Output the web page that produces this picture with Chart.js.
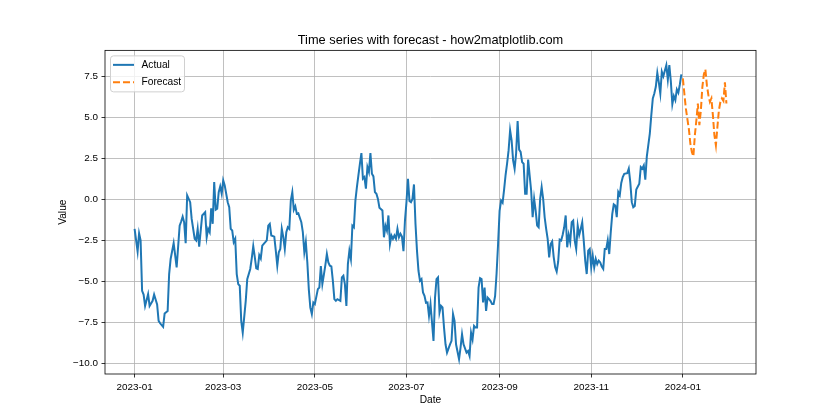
<!DOCTYPE html>
<html>
<head>
<meta charset="utf-8">
<script src="https://cdn.jsdelivr.net/npm/chart.js@4.4.0/dist/chart.umd.min.js"></script>
<style>
  html, body { margin: 0; padding: 0; background: #fff; }
</style>
</head>
<body>
<canvas id="tsChart" width="840" height="420"></canvas>
<script>
/* data: day offsets from 2023-01-01 and values */
const actualDays = [
  0, 2, 3, 4, 5, 6, 7, 9, 10, 12, 13, 15, 16, 17, 19, 20, 22, 23, 24, 26, 27, 28, 30, 31, 32, 33, 34, 35, 37, 38,
  40, 41, 42, 43, 45, 47, 48, 49, 50, 51, 52, 53, 54, 55, 56, 57, 58, 59, 60, 62, 63, 64, 65, 66, 67, 68, 69, 70, 71, 72,
  74, 75, 77, 78, 79, 80, 81, 82, 83, 84, 85, 87, 88, 89, 90, 91, 93, 94, 95, 96, 97, 98, 99, 100, 101, 102, 103, 104, 105, 106,
  107, 108, 109, 111, 112, 113, 114, 115, 116, 117, 118, 119, 120, 122, 123, 124, 125, 126, 127, 128, 129, 130, 131, 132, 133, 134, 135, 137, 138, 139,
  140, 141, 142, 143, 144, 145, 146, 147, 148, 149, 150, 151, 152, 153, 154, 155, 156, 157, 158, 159, 160, 161, 162, 163, 165, 166, 167, 168, 169, 170,
  171, 172, 173, 174, 175, 176, 177, 178, 179, 180, 181, 182, 183, 184, 185, 186, 187, 188, 189, 190, 191, 192, 193, 194, 195, 196, 197, 198, 199, 200,
  201, 202, 203, 204, 205, 206, 207, 208, 210, 211, 212, 213, 214, 216, 217, 218, 219, 221, 222, 223, 224, 225, 226, 227, 228, 229, 230, 231, 232, 233,
  234, 235, 236, 237, 238, 239, 240, 241, 242, 243, 244, 245, 246, 247, 248, 249, 250, 251, 252, 253, 254, 255, 256, 257, 258, 259, 260, 261, 262, 263,
  264, 265, 266, 267, 268, 269, 270, 271, 272, 273, 274, 275, 276, 277, 278, 279, 280, 281, 282, 283, 284, 285, 286, 287, 288, 289, 290, 291, 292, 293,
  294, 295, 296, 297, 298, 299, 300, 301, 302, 303, 304, 305, 306, 307, 308, 309, 310, 311, 312, 313, 314, 315, 316, 317, 318, 319, 320, 321, 322, 323,
  324, 325, 326, 328, 329, 330, 331, 332, 333, 334, 336, 337, 338, 339, 340, 341, 342, 343, 344, 345, 346, 347, 348, 349, 350, 351, 352, 353, 354, 355,
  356, 357, 358, 359, 360, 361, 362, 363, 364
];
const actualValues = [
  -1.8, -3.17, -2.07, -2.5, -5.57, -5.8, -6.49, -5.77, -6.49, -6.18, -5.8, -6.4, -7.4, -7.55, -7.77, -6.95, -6.8, -4.55, -3.63, -2.67, -3.4, -4.14, -1.6, -1.35, -1.05, -1.4, -2.67, 0.24, -0.17, -1.19,
  -2.4, -2.5, -1.8, -2.88, -0.98, -0.78, -2.31, -1.8, -2.0, -0.54, -1.49, 1.05, -0.63, -0.57, 0.44, 0.79, 0.34, 1.16, 0.85, -0.17, -0.48, -1.8, -1.9, -2.6, -2.4, -4.55, -5.16, -5.26, -7.4, -8.12,
  -6.18, -4.86, -4.24, -3.6, -2.85, -3.5, -4.2, -4.24, -3.4, -3.6, -2.82, -2.61, -2.5, -1.6, -1.49, -2.2, -2.27, -3.12, -4.04, -3.22, -3.02, -1.8, -2.3, -3.02, -2.0, -1.7, -1.8, -0.07, 0.44, -0.63,
  -0.42, -0.88, -0.85, -1.39, -2.0, -3.22, -2.6, -3.84, -5.5, -6.6, -6.99, -6.28, -6.38, -5.47, -5.37, -4.07, -5.16, -4.6, -4.0, -3.33, -3.84, -4.04, -4.08, -4.96, -6.08, -6.18, -6.08, -6.18, -4.75, -4.65,
  -5.16, -6.49, -3.94, -3.12, -3.63, -1.6, -1.7, -0.07, 0.75, 1.46, 2.17, 2.82, 1.26, 1.36, 0.65, 1.97, 1.66, 2.82, 1.56, 1.4, 0.44, 0.34, 0.03, -0.51, -0.68, -2.31, -1.6, -1.9, -0.98, -2.72,
  -2.2, -2.4, -2.2, -2.4, -1.8, -2.31, -2.1, -2.27, -3.16, -1.29, -0.17, 1.26, -0.1, -0.17, 0.03, 0.91, -1.49, -3.12, -4.35, -4.96, -4.86, -5.67, -5.88, -6.3, -6.28, -7.1, -6.38, -7.5, -8.62, -6.0,
  -4.86, -4.75, -6.89, -6.49, -6.59, -7.81, -8.83, -9.34, -8.83, -8.62, -6.99, -7.4, -8.83, -9.74, -9.03, -8.22, -8.83, -9.34, -9.24, -9.54, -8.12, -8.53, -7.71, -7.81, -7.81, -5.37, -4.8, -4.86, -6.28, -5.37,
  -6.79, -5.98, -6.08, -6.2, -6.38, -6.38, -5.9, -4.5, -2.7, -0.7, -0.07, -0.2, 0.6, 1.5, 2.2, 3.0, 4.21, 3.6, 2.38, 1.87, 2.79, 4.78, 3.03, 2.89, 2.27, 2.17, 0.34, 0.34, 2.42, 1.46,
  0.54, -1.09, 0.03, -0.68, -1.6, -1.7, 0.03, 0.75, 0.03, -1.09, -1.8, -2.41, -3.53, -2.72, -2.56, -3.5, -4.14, -4.4, -3.8, -2.45, -2.5, -2.15, -1.7, -0.98, -2.92, -2.17, -2.61, -1.39, -1.29, -2.5,
  -3.02, -1.6, -2.17, -1.8, -1.4, -2.5, -3.73, -4.55, -3.12, -3.02, -4.14, -3.43, -4.14, -3.63, -3.94, -3.73, -3.84, -4.1, -4.24, -3.02, -3.02, -2.5, -3.33, -2.0, -0.9, -0.3, -0.37, -1.08, 0.44, 0.25,
  1.0, 1.36, 1.56, 1.6, 1.87, 1.05, -0.17, -0.48, -0.4, 0.6, 0.95, 1.97, 1.87, 2.07, 1.2, 2.6, 3.3, 4.01, 5.13, 6.15, 6.45, 6.86, 7.71, 7.13, 6.45, 7.78, 7.5, 7.84, 8.18, 7.3,
  8.18, 7.2, 5.8, 6.3, 6.05, 6.7, 6.5, 7.0, 7.62
];
const forecastDays = [
  365, 366, 367, 368, 369, 370, 371, 372, 373, 374, 375, 376, 377, 378, 379,
  380, 381, 382, 383, 384, 385, 386, 387, 388, 389, 390, 391, 392, 393, 394
];
const forecastValues = [
  7.37, 6.45, 5.54, 4.9, 4.3, 3.4, 2.89, 2.62, 3.9, 4.82, 5.84, 4.52, 5.43, 6.86, 7.62,
  7.92, 6.96, 6.35, 5.94, 6.15, 5.13, 3.91, 3.3, 4.41, 5.43, 5.94, 6.15, 6.0, 7.13, 5.84
];
const dateTickDays = [0, 59, 120, 181, 243, 304, 365];
const dateTickLabels = ['2023-01', '2023-03', '2023-05', '2023-07', '2023-09', '2023-11', '2024-01'];
const valueTicks = [-10, -7.5, -5, -2.5, 0, 2.5, 5, 7.5];

const FONT = "'Liberation Sans', Arial, sans-serif";

/* 테두리 + 범례 (matplotlib 스타일) */
const frameAndLegend = {
  id: 'frameAndLegend',
  afterDraw(chart) {
    const ctx = chart.ctx;
    const area = chart.chartArea;
    ctx.save();
    ctx.strokeStyle = '#000';
    ctx.lineWidth = 0.8;
    ctx.strokeRect(area.left, area.top, area.right - area.left, area.bottom - area.top);

    const x = area.left + 5, y = area.top + 5, w = 74, h = 36;
    ctx.fillStyle = 'rgba(255,255,255,0.8)';
    ctx.strokeStyle = '#d0d0d0';
    ctx.lineWidth = 1;
    ctx.beginPath();
    ctx.roundRect(x + 0.5, y + 0.5, w, h, 3);
    ctx.fill();
    ctx.stroke();

    chart.data.datasets.forEach((ds, i) => {
      const ly = y + 9.5 + i * 17.4;
      ctx.strokeStyle = ds.borderColor;
      ctx.lineWidth = ds.borderWidth;
      ctx.setLineDash(ds.borderDash || []);
      ctx.beginPath();
      ctx.moveTo(x + 3, ly);
      ctx.lineTo(x + 24, ly);
      ctx.stroke();
      ctx.setLineDash([]);
      ctx.fillStyle = '#000';
      ctx.font = `10.2px ${FONT}`;
      ctx.textBaseline = 'middle';
      ctx.fillText(ds.label, x + 31.5, ly);
    });
    ctx.restore();
  }
};

const chartElement = document.getElementById('tsChart');

new Chart(chartElement, {
  type: 'line',
  data: {
    datasets: [{
      label: 'Actual',
      data: actualDays.map((d, i) => ({ x: d, y: actualValues[i] })),
      borderColor: '#1f77b4',
      borderWidth: 2,
      pointRadius: 0,
      tension: 0
    }, {
      label: 'Forecast',
      data: forecastDays.map((d, i) => ({ x: d, y: forecastValues[i] })),
      borderColor: '#ff7f0e',
      borderWidth: 2,
      borderDash: [7, 3],
      pointRadius: 0,
      tension: 0
    }]
  },
  options: {
    responsive: false,
    animation: false,
    devicePixelRatio: 1,
    layout: { padding: { left: 0, right: 84, top: 0, bottom: 0 } },
    plugins: {
      legend: { display: false },
      tooltip: { enabled: false },
      title: {
        display: true,
        fullSize: false,
        text: 'Time series with forecast - how2matplotlib.com',
        color: '#000',
        font: { family: FONT, size: 12.8, weight: 'normal', lineHeight: 1.2 },
        padding: { top: 32.5, bottom: 2.5 }
      }
    },
    scales: {
      x: {
        type: 'linear',
        min: -19.7,
        max: 413.7,
        afterFit: (scale) => { scale.height = 46; },
        afterBuildTicks: (scale) => { scale.ticks = dateTickDays.map((v) => ({ value: v })); },
        ticks: {
          autoSkip: false,
          maxRotation: 0,
          padding: 3.5,
          color: '#000',
          font: { family: FONT, size: 9.9 },
          callback: (value) => dateTickLabels[dateTickDays.indexOf(value)]
        },
        grid: { color: '#b0b0b0', lineWidth: 0.8, tickLength: 3.5, tickColor: '#000', tickWidth: 0.8 },
        border: { display: false },
        title: {
          display: true,
          text: 'Date',
          color: '#000',
          font: { family: FONT, size: 10.2 },
          padding: { top: 0, bottom: 13.5 }
        }
      },
      y: {
        min: -10.64,
        max: 9.08,
        afterFit: (scale) => { scale.width = 105; },
        afterBuildTicks: (scale) => { scale.ticks = valueTicks.map((v) => ({ value: v })); },
        ticks: {
          padding: 3.5,
          color: '#000',
          font: { family: FONT, size: 9.9 },
          callback: (value) => value.toFixed(1).replace('-', '\u2212')
        },
        grid: { color: '#b0b0b0', lineWidth: 0.8, tickLength: 3.5, tickColor: '#000', tickWidth: 0.8 },
        border: { display: false },
        title: {
          display: true,
          text: 'Value',
          color: '#000',
          font: { family: FONT, size: 10.2 },
          padding: { top: 57, bottom: 0 }
        }
      }
    }
  },
  plugins: [frameAndLegend]
});
</script>
</body>
</html>
